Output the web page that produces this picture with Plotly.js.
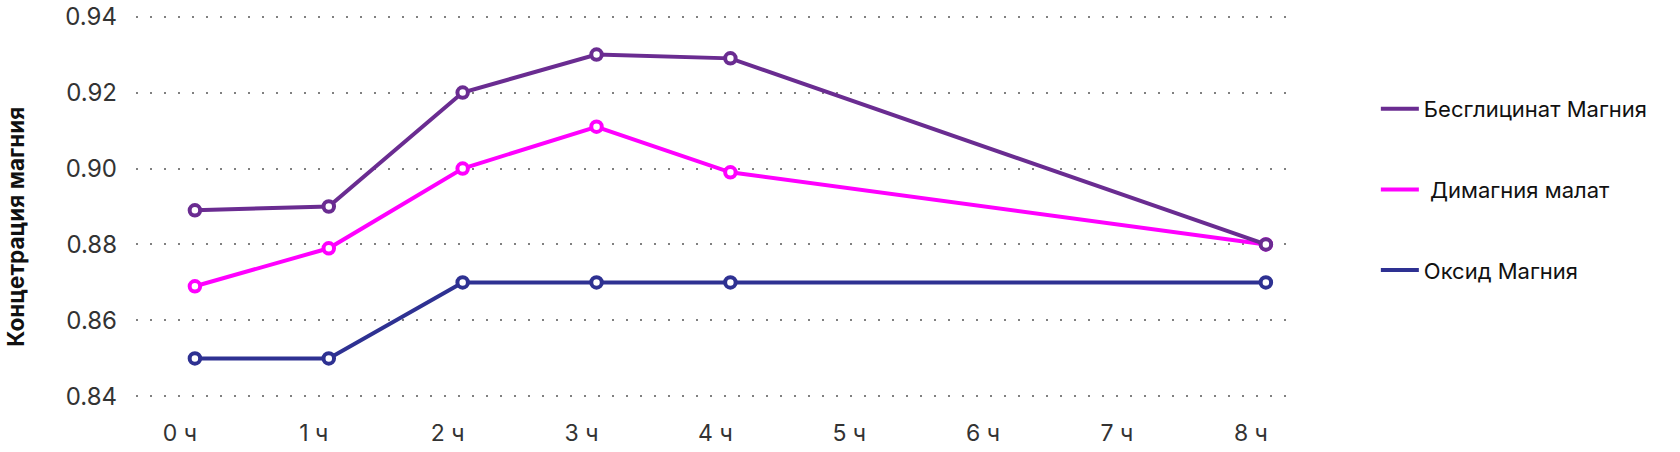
<!DOCTYPE html>
<html>
<head>
<meta charset="utf-8">
<script src="https://cdn.plot.ly/plotly-3.0.1.min.js"></script>
<style>
  html, body { margin: 0; padding: 0; background: #fff; }
  #chart { width: 1680px; height: 452px; }
</style>
</head>
<body>
<div id="chart"></div>
<script>
// ---- data ----
const timeValues = [0, 1, 2, 3, 4, 8];
const tickValues = [0, 1, 2, 3, 4, 5, 6, 7, 8];
const tickLabels = ["0 ч", "1 ч", "2 ч", "3 ч", "4 ч", "5 ч", "6 ч", "7 ч", "8 ч"];
const yTickValues = [0.84, 0.86, 0.88, 0.90, 0.92, 0.94];

const seriesNames = ["Бесглицинат Магния", " Димагния малат", "Оксид Магния"];
const bisglycinate = [0.889, 0.890, 0.920, 0.930, 0.929, 0.880];
const dimalate     = [0.869, 0.879, 0.900, 0.911, 0.899, 0.880];
const oxide        = [0.850, 0.850, 0.870, 0.870, 0.870, 0.870];
const seriesValues = [bisglycinate, dimalate, oxide];
const seriesColors = ["#6a2c91", "#ff00ff", "#2e3192"];

const yTitle = "Концетрация магния";

// ---- traces ----
const traces = [];
// draw order: oxide first, then malate, then bisglycinate on top
[2, 1, 0].forEach(i => {
  traces.push({
    x: timeValues,
    y: seriesValues[i],
    type: "scatter",
    mode: "lines+markers",
    line: { color: seriesColors[i], width: 4 },
    marker: { symbol: "circle", size: 10.5, color: "#ffffff",
              line: { color: seriesColors[i], width: 4 } },
    showlegend: false,
    hoverinfo: "x+y"
  });
});
// legend entries (line only)
seriesNames.forEach((name, i) => {
  traces.push({
    x: [null], y: [null],
    type: "scatter",
    mode: "lines",
    name: name,
    legendgroup: "g" + i,
    line: { color: seriesColors[i], width: 4 },
    showlegend: true
  });
});

const FONT = "Inter, Roboto, 'DejaVu Sans', sans-serif";

const layout = {
  width: 1680,
  height: 452,
  margin: { l: 136, r: 382, t: 9.4, b: 47.6, pad: 0 },
  paper_bgcolor: "#ffffff",
  plot_bgcolor: "#ffffff",
  font: { family: FONT, color: "#333333" },
  xaxis: {
    range: [-0.44, 8.24],
    tickmode: "array",
    tickvals: tickValues,
    ticktext: tickLabels,
    showgrid: false,
    zeroline: false,
    showline: false,
    ticks: "",
    tickfont: { size: 23, color: "#333333", family: FONT },
    ticklabelshift: -15,
    ticklabelstandoff: 13
  },
  yaxis: {
    range: [0.838, 0.942],
    tickmode: "array",
    tickvals: yTickValues,
    tickformat: ".2f",
    showgrid: true,
    gridcolor: "#808080",
    gridwidth: 1.7,
    griddash: "1.7px,12.3px",
    zeroline: false,
    showline: false,
    ticks: "",
    tickfont: { size: 24, color: "#333333", family: FONT },
    ticklabelstandoff: 18
  },
  legend: {
    x: 1.067,
    xanchor: "left",
    y: 0.80,
    yanchor: "top",
    itemwidth: 38,
    font: { size: 22, color: "#111111", family: FONT },
    tracegroupgap: 49,
    traceorder: "grouped",
    bgcolor: "rgba(0,0,0,0)"
  },
  annotations: [{
    text: "<b>" + yTitle + "</b>",
    xref: "paper", yref: "paper",
    x: -0.104, y: 0.449,
    xanchor: "center", yanchor: "middle",
    textangle: -90,
    showarrow: false,
    font: { size: 22.5, color: "#111111", family: FONT }
  }],
  showlegend: true,
  hovermode: "closest"
};

Plotly.newPlot("chart", traces, layout, { displayModeBar: false, staticPlot: false });
</script>
</body>
</html>
